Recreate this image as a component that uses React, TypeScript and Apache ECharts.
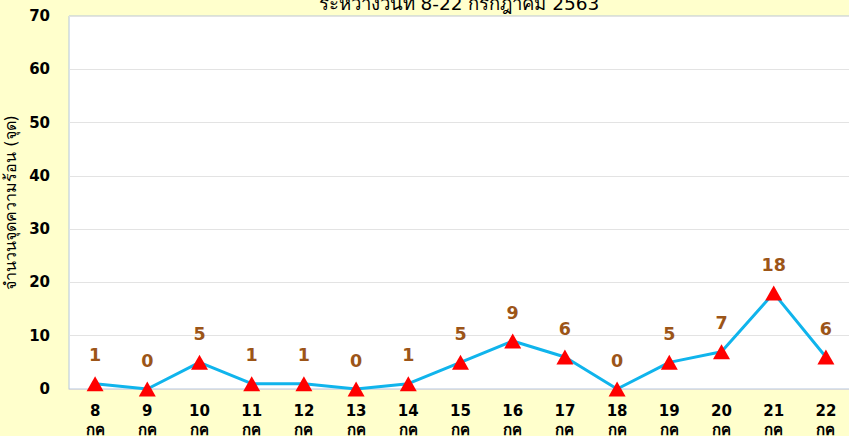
import React, { useEffect, useRef } from "react";
import * as echarts from "echarts";

const days = ["8", "9", "10", "11", "12", "13", "14", "15", "16", "17", "18", "19", "20", "21", "22"];
const monthAbbr = "กค";
const hotspots = [1, 0, 5, 1, 1, 0, 1, 5, 9, 6, 0, 5, 7, 18, 6];
const yTicks = { min: 0, max: 70, interval: 10 };
const titleText = "ระหว่างวันที่ 8-22 กรกฎาคม 2563";
const yAxisName = "จำนวนจุดความร้อน (จุด)";

const FONT = "Tahoma, 'DejaVu Sans', 'Noto Sans', sans-serif";

export default function App() {
  const ref = useRef<HTMLDivElement>(null);
  useEffect(() => {
    if (!ref.current) return;
    const chart = echarts.init(ref.current, undefined, { renderer: "svg" });
    chart.setOption({
      animation: false,
      backgroundColor: "#FFFFCC",
      graphic: [
        {
          type: "text",
          x: 459,
          y: 3,
          style: {
            text: titleText,
            textAlign: "center",
            textVerticalAlign: "middle",
            fontSize: 18.5,
            fontFamily: FONT,
            fill: "#000",
          },
        },
      ],
      grid: {
        left: 69,
        right: -3,
        top: 16,
        bottom: 47,
        outerBoundsMode: "none",
        containLabel: false,
        show: true,
        backgroundColor: "#FFFFFF",
        borderColor: "#B4C7DC",
        borderWidth: 1,
      },
      xAxis: {
        type: "category",
        data: days.map((d) => d + "\n" + monthAbbr),
        boundaryGap: true,
        axisLine: { show: true, lineStyle: { color: "#D9D9D9" } },
        axisTick: { show: false },
        axisLabel: {
          color: "#000",
          fontWeight: "bold",
          fontSize: 15,
          fontFamily: FONT,
          lineHeight: 19,
          margin: 12,
          interval: 0,
        },
      },
      yAxis: {
        type: "value",
        min: yTicks.min,
        max: yTicks.max,
        interval: yTicks.interval,
        name: yAxisName,
        nameLocation: "middle",
        nameGap: 50,
        nameTextStyle: { color: "#000", fontSize: 16, fontFamily: FONT },
        axisLine: { show: false },
        axisTick: { show: false },
        axisLabel: {
          color: "#000",
          fontWeight: "bold",
          fontSize: 15,
          fontFamily: FONT,
          margin: 19,
        },
        splitLine: { lineStyle: { color: "#E3E3E3", width: 1 } },
      },
      series: [
        {
          type: "line",
          data: hotspots,
          lineStyle: { color: "#10B4EC", width: 3 },
          itemStyle: { color: "#FF0000" },
          symbol: "triangle",
          symbolSize: [17, 15],
          label: {
            show: true,
            position: "top",
            distance: 12,
            color: "#9C5518",
            fontWeight: "bold",
            fontSize: 17.5,
            fontFamily: FONT,
          },
        },
      ],
    });
    return () => chart.dispose();
  }, []);
  return <div ref={ref} style={{ width: 849, height: 436, position: "absolute", left: 0, top: 0 }} />;
}
